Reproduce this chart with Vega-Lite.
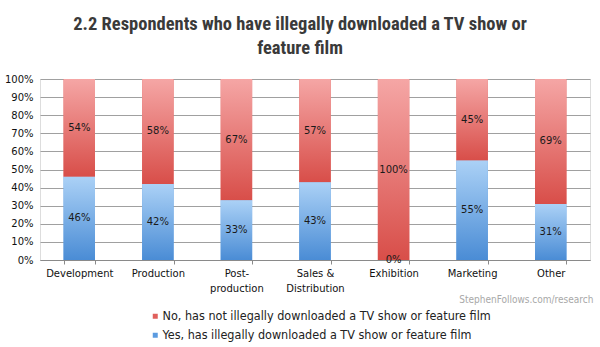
{
  "$schema": "https://vega.github.io/schema/vega-lite/v6.json",
  "width": 550,
  "height": 181,
  "autosize": "none",
  "padding": {"left": 40, "top": 79, "right": 10, "bottom": 87},
  "background": "white",
  "title": {
    "text": ["2.2 Respondents who have illegally downloaded a TV show or", "feature film"],
    "font": "'Roboto Condensed', 'Noto Sans Condensed', 'Liberation Sans Narrow', 'DejaVu Sans Condensed'",
    "fontWeight": "bold",
    "fontSize": 18.5,
    "color": "#3a3a3a",
    "anchor": "middle",
    "dx": -15,
    "offset": 17,
    "lineHeight": 24
  },
  "data": {
    "values": [
      {"cat": "Development", "series": "Yes, has illegally downloaded a TV show or feature film", "start": 0, "end": 46, "label": "46%"},
      {"cat": "Development", "series": "No, has not illegally downloaded a TV show or feature film", "start": 46, "end": 100, "label": "54%"},
      {"cat": "Production", "series": "Yes, has illegally downloaded a TV show or feature film", "start": 0, "end": 42, "label": "42%"},
      {"cat": "Production", "series": "No, has not illegally downloaded a TV show or feature film", "start": 42, "end": 100, "label": "58%"},
      {"cat": "Post-production", "series": "Yes, has illegally downloaded a TV show or feature film", "start": 0, "end": 33, "label": "33%"},
      {"cat": "Post-production", "series": "No, has not illegally downloaded a TV show or feature film", "start": 33, "end": 100, "label": "67%"},
      {"cat": "Sales & Distribution", "series": "Yes, has illegally downloaded a TV show or feature film", "start": 0, "end": 43, "label": "43%"},
      {"cat": "Sales & Distribution", "series": "No, has not illegally downloaded a TV show or feature film", "start": 43, "end": 100, "label": "57%"},
      {"cat": "Exhibition", "series": "Yes, has illegally downloaded a TV show or feature film", "start": 0, "end": 0, "label": "0%"},
      {"cat": "Exhibition", "series": "No, has not illegally downloaded a TV show or feature film", "start": 0, "end": 100, "label": "100%"},
      {"cat": "Marketing", "series": "Yes, has illegally downloaded a TV show or feature film", "start": 0, "end": 55, "label": "55%"},
      {"cat": "Marketing", "series": "No, has not illegally downloaded a TV show or feature film", "start": 55, "end": 100, "label": "45%"},
      {"cat": "Other", "series": "Yes, has illegally downloaded a TV show or feature film", "start": 0, "end": 31, "label": "31%"},
      {"cat": "Other", "series": "No, has not illegally downloaded a TV show or feature film", "start": 31, "end": 100, "label": "69%"}
    ]
  },
  "encoding": {
    "x": {
      "field": "cat",
      "type": "nominal",
      "sort": ["Development", "Production", "Post-production", "Sales & Distribution", "Exhibition", "Marketing", "Other"],
      "scale": {"paddingInner": 0.6, "paddingOuter": 0.3},
      "axis": {
        "title": "StephenFollows.com/research",
        "titleFont": "DejaVu Sans Condensed",
        "titleFontWeight": "normal",
        "titleFontSize": 10,
        "titleColor": "#a8a8a8",
        "titleAlign": "right",
        "titleAnchor": null,
        "titleX": 553,
        "titleY": 42,
        "titleBaseline": "alphabetic",
        "labelAngle": 0,
        "labelFont": "DejaVu Sans",
        "labelFontSize": 10,
        "labelColor": "#111111",
        "labelPadding": 4,
        "labelExpr": "datum.value == 'Post-production' ? ['Post-', 'production'] : datum.value == 'Sales & Distribution' ? ['Sales &', 'Distribution'] : datum.value",
        "labelLineHeight": 15,
        "tickBand": "extent",
        "tickSize": 4,
        "tickColor": "#8a8a8a",
        "domainColor": "#8a8a8a",
        "grid": false
      }
    },
    "y": {
      "field": "start",
      "type": "quantitative",
      "scale": {"domain": [0, 100], "nice": false},
      "axis": {
        "title": null,
        "values": [0, 10, 20, 30, 40, 50, 60, 70, 80, 90, 100],
        "labelExpr": "datum.value + '%'",
        "labelOverlap": false,
        "labelFont": "DejaVu Sans",
        "labelFontSize": 10,
        "labelColor": "#111111",
        "labelPadding": 7,
        "ticks": false,
        "domain": false,
        "grid": true,
        "gridColor": "#a0a0a0",
        "gridWidth": 1
      }
    },
    "y2": {"field": "end"}
  },
  "layer": [
    {
      "mark": {"type": "bar"},
      "encoding": {
        "color": {
          "field": "series",
          "type": "nominal",
          "scale": {
            "domain": ["No, has not illegally downloaded a TV show or feature film", "Yes, has illegally downloaded a TV show or feature film"],
            "range": ["#e0605c", "#5b9be0"]
          },
          "legend": {
            "title": null,
            "orient": "none",
            "legendX": 109,
            "legendY": 231,
            "direction": "vertical",
            "symbolType": "square",
            "symbolSize": 25,
            "symbolStrokeWidth": 0,
            "labelFont": "DejaVu Sans Condensed",
            "labelFontSize": 12.5,
            "labelColor": "#222222",
            "labelOffset": 1,
            "rowPadding": 6,
            "labelLimit": 500
          }
        }
      }
    },
    {
      "transform": [{"filter": "datum.series == 'No, has not illegally downloaded a TV show or feature film'"}],
      "mark": {
        "type": "bar",
        "color": {"gradient": "linear", "x1": 0, "y1": 0, "x2": 0, "y2": 1, "stops": [{"offset": 0, "color": "#f5a6a5"}, {"offset": 1, "color": "#d84e49"}]}
      }
    },
    {
      "transform": [{"filter": "datum.series == 'Yes, has illegally downloaded a TV show or feature film' && datum.end > 0"}],
      "mark": {
        "type": "bar",
        "color": {"gradient": "linear", "x1": 0, "y1": 0, "x2": 0, "y2": 1, "stops": [{"offset": 0, "color": "#abd1f6"}, {"offset": 1, "color": "#4a8cd5"}]}
      }
    },
    {
      "transform": [{"calculate": "(datum.start + datum.end) / 2", "as": "mid"}],
      "mark": {"type": "text", "font": "DejaVu Sans", "fontSize": 10, "color": "#1a1a1a", "baseline": "middle"},
      "encoding": {
        "y": {
          "field": "mid",
          "type": "quantitative",
          "axis": {
            "title": null,
            "values": [0, 10, 20, 30, 40, 50, 60, 70, 80, 90, 100],
            "labelExpr": "datum.value + '%'",
            "labelOverlap": false,
            "labelFont": "DejaVu Sans",
            "labelFontSize": 10,
            "labelColor": "#111111",
            "labelPadding": 7,
            "ticks": false,
            "domain": false,
            "grid": true,
            "gridColor": "#a0a0a0",
            "gridWidth": 1
          }
        },
        "y2": null,
        "text": {"field": "label"}
      }
    }
  ]
}
